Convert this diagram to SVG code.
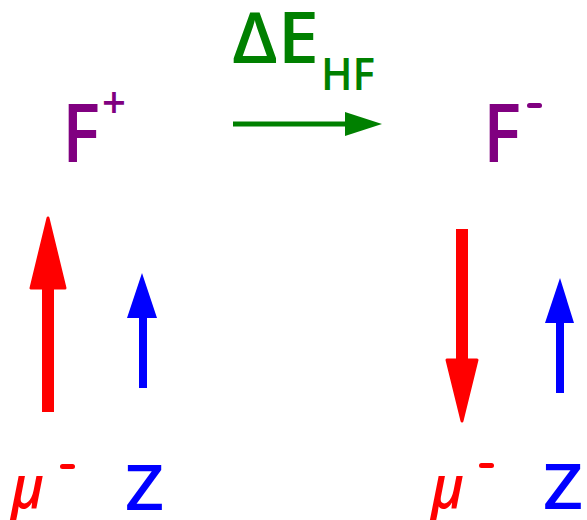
<svg xmlns="http://www.w3.org/2000/svg" width="587" height="520" viewBox="0 0 587 520">
<style>
text{font-family:"Open Sans","Liberation Sans",sans-serif;font-weight:600;}
.p{fill:#800080;}
.g{fill:#008000;}
.r{fill:#ff0000;}
.b{fill:#0000ff;}
</style>
<rect width="587" height="520" fill="#ffffff"/>
<g id="F-plus">
<text class="p" x="62" y="162" font-size="82" textLength="38" lengthAdjust="spacingAndGlyphs">F</text>
<text class="p" x="102" y="118" font-size="44" textLength="24" lengthAdjust="spacingAndGlyphs">+</text>
</g>
<g id="F-minus">
<text class="p" x="483" y="162" font-size="82" textLength="38" lengthAdjust="spacingAndGlyphs">F</text>
<rect class="p" x="527" y="103" width="15" height="5" rx="2.5"/>
</g>
<g id="deltaE">
<text class="g" x="232" y="63" font-size="70" textLength="87" lengthAdjust="spacingAndGlyphs">ΔE</text>
<text class="g" x="321" y="90" font-size="46" textLength="54" lengthAdjust="spacingAndGlyphs">HF</text>
</g>
<g id="mu-left">
<text class="r" x="11" y="508" font-size="60" font-style="italic" textLength="33" lengthAdjust="spacingAndGlyphs">μ</text>
<rect class="r" x="60" y="464" width="15" height="5" rx="2.5"/>
</g>
<g id="Z-left">
<text class="b" x="125" y="510" font-size="63" textLength="39" lengthAdjust="spacingAndGlyphs">Z</text>
</g>
<g id="mu-right">
<text class="r" x="431" y="508" font-size="60" font-style="italic" textLength="33" lengthAdjust="spacingAndGlyphs">μ</text>
<rect class="r" x="479" y="463" width="15" height="5" rx="2.5"/>
</g>
<g id="Z-right">
<text class="b" x="543" y="509" font-size="63" textLength="40" lengthAdjust="spacingAndGlyphs">Z</text>
</g>
<g id="connectors">
<line x1="233" y1="124" x2="347" y2="124" stroke="#008000" stroke-width="5"/>
<polygon points="345,112 382,124 345,136" fill="#008000"/>
<rect x="42" y="285" width="12" height="127" fill="#ff0000"/>
<polygon points="31,288 65,288 48,218" fill="#ff0000" stroke="#ff0000" stroke-width="3" stroke-linejoin="round"/>
<rect x="139" y="315" width="8" height="73" fill="#0000ff"/>
<polygon points="127,318 157,318 142,273" fill="#0000ff"/>
<rect x="456" y="229" width="12" height="134" fill="#ff0000"/>
<polygon points="447,360 477,360 462,421" fill="#ff0000" stroke="#ff0000" stroke-width="3" stroke-linejoin="round"/>
<rect x="556" y="320" width="8" height="73" fill="#0000ff"/>
<polygon points="545,323 574,323 560,278" fill="#0000ff"/>
</g>
</svg>
